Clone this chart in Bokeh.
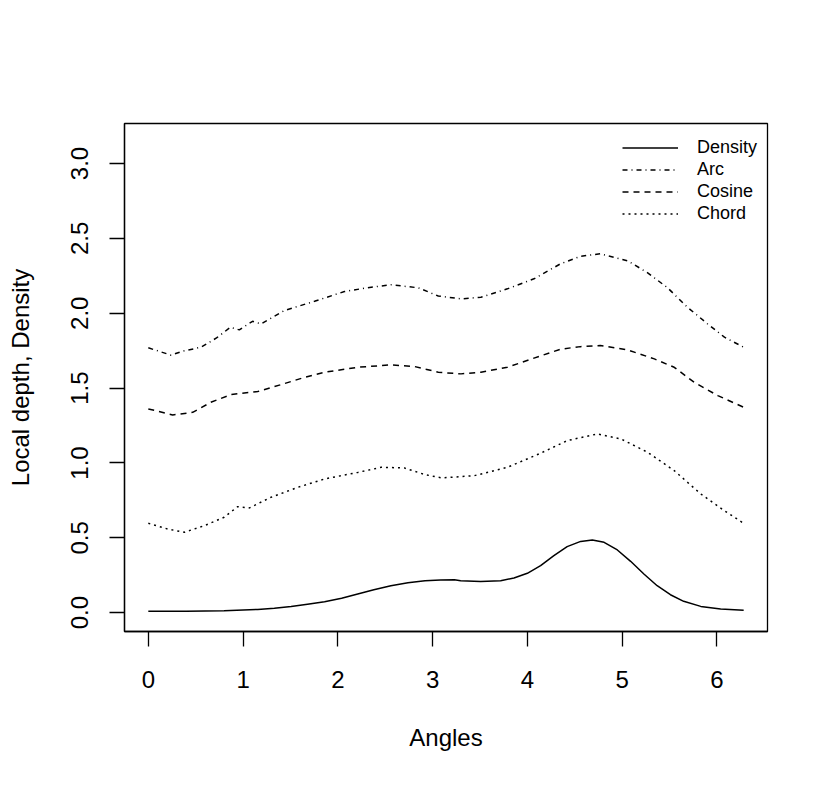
from bokeh.plotting import figure
from bokeh.models import Range1d, FixedTicker, Legend, LegendItem
from bokeh.embed import file_html
from bokeh.resources import INLINE

# ---- data ----
density_x = [0, 0.4, 0.8, 1.155, 1.33, 1.507, 1.68, 1.86, 2.04, 2.21, 2.38, 2.56, 2.74,
             2.92, 3.084, 3.23, 3.296, 3.507, 3.718, 3.859, 4.0, 4.14, 4.28, 4.42, 4.563,
             4.686, 4.81, 4.95, 5.09, 5.23, 5.37, 5.51, 5.65, 5.83, 6.04, 6.283]
density_y = [0.009, 0.010, 0.013, 0.022, 0.030, 0.042, 0.057, 0.073, 0.097, 0.125, 0.153,
             0.180, 0.200, 0.214, 0.218, 0.220, 0.214, 0.209, 0.214, 0.232, 0.263, 0.314,
             0.381, 0.441, 0.476, 0.486, 0.470, 0.419, 0.343, 0.258, 0.180, 0.120, 0.076,
             0.042, 0.025, 0.016]

arc_x = [0, 0.24, 0.36, 0.556, 0.72, 0.866, 0.96, 1.10, 1.19, 1.437, 1.754, 2.07, 2.30,
         2.56, 2.85, 3.06, 3.30, 3.51, 3.79, 4.07, 4.35, 4.56, 4.77, 5.06, 5.27, 5.48,
         5.69, 5.90, 6.08, 6.283]
arc_y = [1.769, 1.720, 1.746, 1.773, 1.835, 1.906, 1.889, 1.946, 1.929, 2.018, 2.080,
         2.145, 2.169, 2.190, 2.170, 2.115, 2.096, 2.107, 2.163, 2.230, 2.330, 2.380,
         2.397, 2.350, 2.270, 2.170, 2.040, 1.930, 1.840, 1.773]

cosine_x = [0, 0.257, 0.468, 0.66, 0.873, 1.155, 1.40, 1.65, 1.86, 2.21, 2.56, 2.81,
            3.06, 3.30, 3.51, 3.79, 4.07, 4.35, 4.56, 4.77, 5.06, 5.34, 5.55, 5.76,
            6.01, 6.283]
cosine_y = [1.361, 1.321, 1.338, 1.405, 1.457, 1.477, 1.523, 1.572, 1.606, 1.639, 1.655,
            1.644, 1.606, 1.595, 1.606, 1.639, 1.700, 1.760, 1.777, 1.784, 1.755, 1.695,
            1.639, 1.539, 1.450, 1.372]

chord_x = [0, 0.204, 0.38, 0.59, 0.80, 0.943, 1.067, 1.296, 1.577, 1.86, 2.21, 2.46,
           2.70, 2.92, 3.10, 3.44, 3.79, 4.14, 4.42, 4.74, 4.99, 5.27, 5.55, 5.83,
           6.08, 6.283]
chord_y = [0.597, 0.559, 0.537, 0.581, 0.637, 0.708, 0.700, 0.771, 0.837, 0.893, 0.937,
           0.971, 0.967, 0.922, 0.900, 0.915, 0.971, 1.065, 1.149, 1.194, 1.160, 1.071,
           0.949, 0.793, 0.681, 0.597]

x_ticks = [0, 1, 2, 3, 4, 5, 6]
y_ticks = [0.0, 0.5, 1.0, 1.5, 2.0, 2.5, 3.0]
y_tick_labels = ["0.0", "0.5", "1.0", "1.5", "2.0", "2.5", "3.0"]
series_names = ["Density", "Arc", "Cosine", "Chord"]

FONT = "Liberation Sans"

p = figure(width=814, height=770, output_backend="svg", toolbar_location=None,
           x_range=Range1d(-0.2513, 6.5345), y_range=Range1d(-0.12566, 3.26726),
           min_border_left=124, min_border_right=47, min_border_top=123,
           min_border_bottom=139, background_fill_color="white",
           border_fill_color="white")
p.grid.visible = False
p.outline_line_color = "black"
p.outline_line_width = 1.3

lw = 1.5
r1 = p.line(density_x, density_y, line_color="black", line_width=lw)
r2 = p.line(arc_x, arc_y, line_color="black", line_width=lw, line_dash="5 4 1 4")
r3 = p.line(cosine_x, cosine_y, line_color="black", line_width=lw, line_dash="6 5")
r4 = p.line(chord_x, chord_y, line_color="black", line_width=lw, line_dash="2 4")

for ax in (p.xaxis[0], p.yaxis[0]):
    ax.axis_line_color = "black"
    ax.axis_line_width = 1.3
    ax.major_tick_line_color = "black"
    ax.major_tick_line_width = 1.3
    ax.major_tick_in = 0
    ax.major_tick_out = 15
    ax.minor_tick_line_color = None
    ax.major_label_text_font = FONT
    ax.major_label_text_font_size = "24px"
    ax.major_label_text_color = "black"
    ax.axis_label_text_font = FONT
    ax.axis_label_text_font_size = "24px"
    ax.axis_label_text_font_style = "normal"
    ax.axis_label_text_color = "black"

p.xaxis.ticker = FixedTicker(ticks=x_ticks)
p.xaxis.major_label_overrides = {t: str(t) for t in x_ticks}
p.xaxis.major_label_standoff = 24
p.xaxis.axis_label = "Angles"
p.xaxis.axis_label_standoff = 33

p.yaxis.ticker = FixedTicker(ticks=y_ticks)
p.yaxis.major_label_overrides = {t: l for t, l in zip(y_ticks, y_tick_labels)}
p.yaxis.major_label_orientation = "vertical"
p.yaxis.major_label_standoff = 21
p.yaxis.axis_label = "Local depth, Density"
p.yaxis.axis_label_standoff = 35

legend = Legend(items=[LegendItem(label=n, renderers=[r])
                       for n, r in zip(series_names, [r1, r2, r3, r4])],
                location=(498, 407), orientation="vertical",
                glyph_width=56, glyph_height=19, label_height=19,
                label_standoff=19, spacing=1, padding=0, margin=0,
                label_text_font=FONT, label_text_font_size="18px",
                label_text_color="black",
                border_line_alpha=0, background_fill_alpha=0)
p.add_layout(legend, "center")

open("out.html", "w").write(file_html(p, INLINE))
